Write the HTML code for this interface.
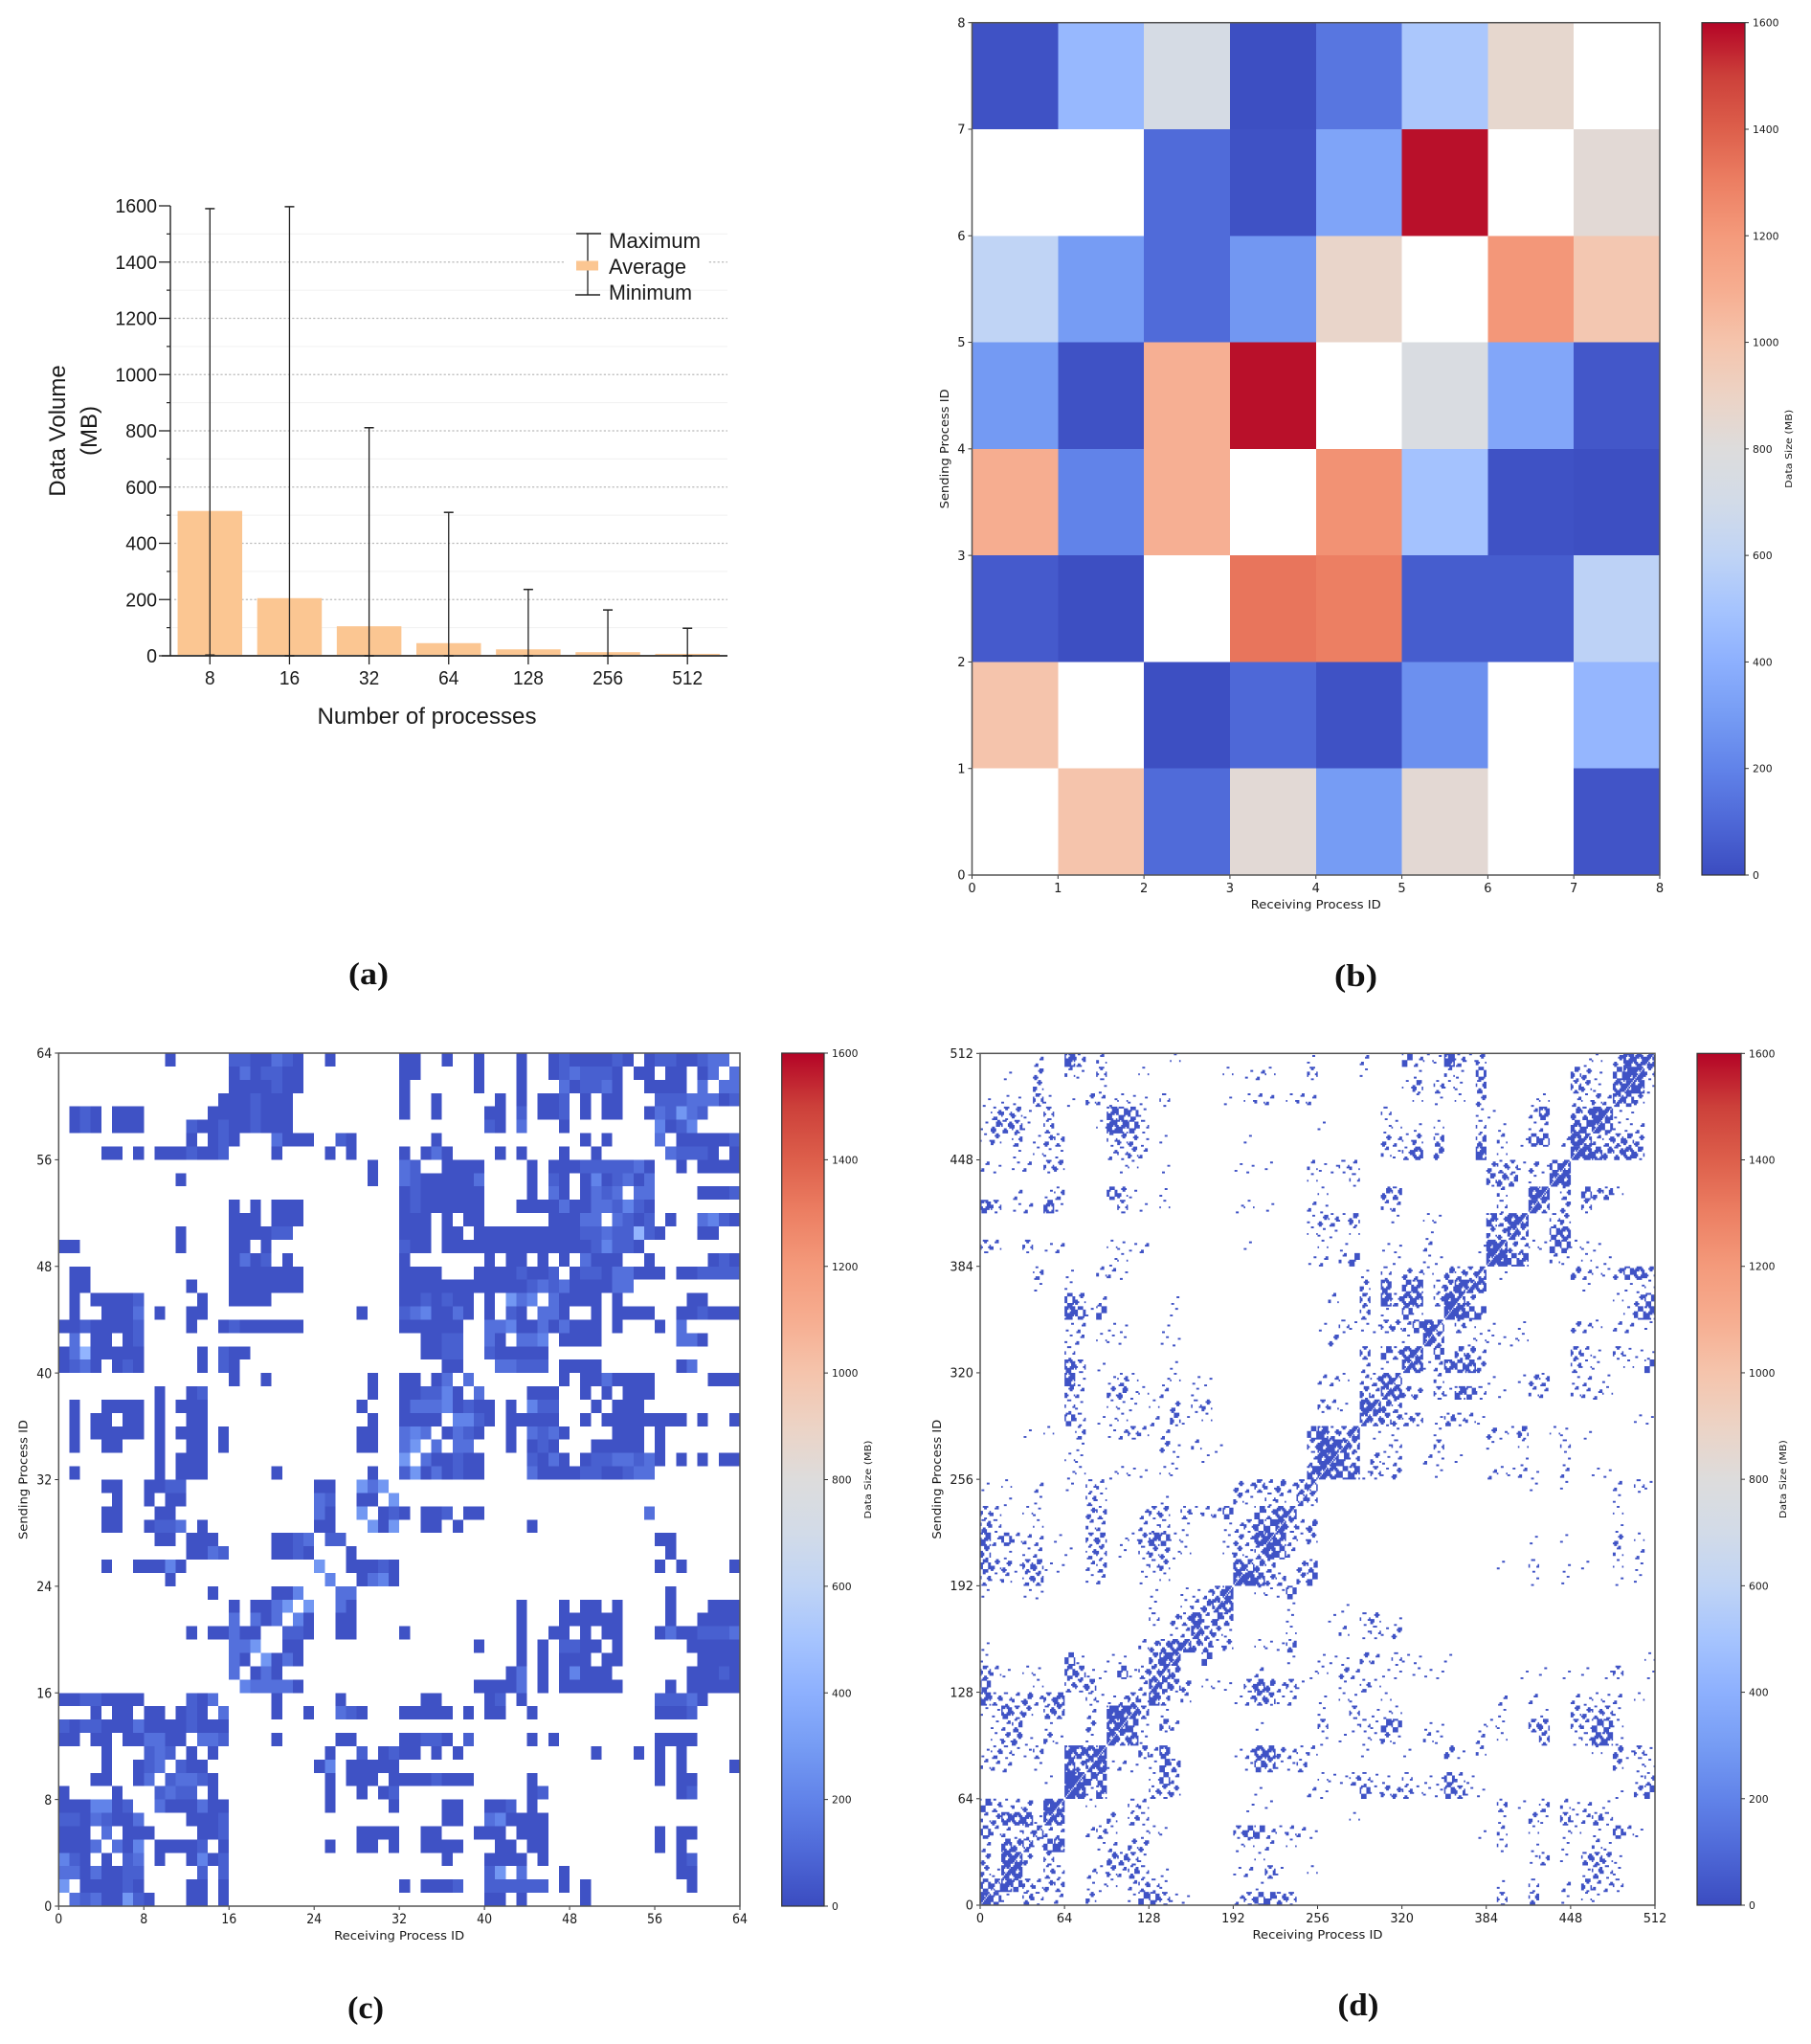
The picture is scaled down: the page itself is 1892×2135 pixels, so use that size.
<!DOCTYPE html>
<html lang="en">
<head>
<meta charset="utf-8">
<title>Communication volume figure</title>
<style>
html,body{margin:0;padding:0;background:#fff;}
svg{display:block;}
text{font-family:"DejaVu Sans",sans-serif;fill:#1a1a1a;}
.sans text,text.sans{font-family:"Liberation Sans",sans-serif;}
.panel-label{font-family:"Liberation Serif",serif;font-weight:bold;font-size:33px;fill:#111;text-anchor:middle;}
</style>
</head>
<body>
<svg id="fig" xmlns="http://www.w3.org/2000/svg" width="1892" height="2135" viewBox="0 0 1892 2135">
<defs>
<linearGradient id="coolwarm" x1="0" y1="1" x2="0" y2="0"></linearGradient>
</defs>
<rect x="0" y="0" width="1892" height="2135" fill="#fff"/>
<g id="panel-a" class="sans"></g>
<g id="panel-b"></g>
<g id="panel-c"></g>
<g id="panel-d"></g>
<text class="panel-label" x="385" y="1028" textLength="42" lengthAdjust="spacingAndGlyphs">(a)</text>
<text class="panel-label" x="1416.5" y="1030" textLength="45" lengthAdjust="spacingAndGlyphs">(b)</text>
<text class="panel-label" x="382" y="2108" textLength="38" lengthAdjust="spacingAndGlyphs">(c)</text>
<text class="panel-label" x="1419" y="2105" textLength="43" lengthAdjust="spacingAndGlyphs">(d)</text>
</svg>
<script>
/* ---------- chart (a) data ---------- */
const processCounts = ['8','16','32','64','128','256','512'];
const averageVolume = [515,205,105,45,23,13,7];
const maximumVolume = [1590,1597,811,510,236,163,98];
const minimumVolume = [3,0,0,0,0,0,0];
const volumeTicks = [0,200,400,600,800,1000,1200,1400,1600];
const volumeMinorTicks = [100,300,500,700,900,1100,1300,1500];

/* ---------- colour scale ---------- */
const colorbarTicks = [0,200,400,600,800,1000,1200,1400,1600];

/* ---------- heatmap (b): MB per cell, top row first, null = no traffic ---------- */
const matrix8 = [
 [20,440,730,10,150,520,860,null],
 [null,null,110,20,340,1580,null,830],
 [600,300,110,280,880,null,1210,980],
 [290,20,1090,1580,null,760,350,40],
 [1100,200,1090,null,1230,490,20,10],
 [50,10,null,1330,1300,60,60,590],
 [1000,null,10,100,20,250,null,430],
 [null,1000,110,830,300,840,null,30]
];
const ticks8 = [0,1,2,3,4,5,6,7,8];

/* ---------- heatmap (c): 64x64, top row first; '.' = none, digit = level index ---------- */
const levelsMB64 = [0,20,70,130,200,280,420];
const matrix64 = [
"........ ..1..... 2211321. .1...... 11..1..1 ...1..12 111121.1 2211233.",
"........ ........ 1312211. ........ 11.....1 ...1..12 32221.11 .11.13.3",
"........ ........ 1111211. ........ 1......1 ...1...3 12231..1 111.3.33",
"........ .......1 112111.. ........ 1..1.... .1.1.112 .1.11... 22233312",
".121.111 ......11 112111.. ........ 1..1.... 11.2.112 .1.11..1 32532...",
".121.111 ....2112 112111.. ........ ........ 21.3...1 ........ 4124....",
"........ ....1.12 1...3111 ..21.... ...1.... ........ .1.1.... 3.111112",
"....11.1 .1112112 ....1... .1.1.... 1.131... .1.1...1 ..1..... .32221.1",
"........ ........ ........ .....1.. 32..1111 ....1.11 12222231 ..1.1111",
"........ ...1.... ........ .....1.. 32111113 ....1.21 .1412313 ........",
"........ ........ ........ ........ 12111111 ....1.31 .1323.33 ....1112",
"........ ........ 1.1.111. ........ 12111111 ...11113 11332421 ........",
"........ ........ 111.111. ........ 111.1.11 ......11 133.3212 .1..3421",
"........ ...1.... 111122.. ........ 111.11.1 11111111 12232262 1...11..",
"11...... ...1.... 11.1.... ........ 211.1111 11111111 1124221. ........",
"........ ........ 1312.1.. ........ 1....... 1.11.1.1 .3111..1 .....121",
".11..... ........ 1111111. ........ 1111...1 1112112. 12213311 1.112222",
".11..... ....1... 1111111. ........ 11111111 11112323 111133.. ........",
".1.11112 .....1.. 1111.... ........ 1121211. 1.534.31 111.1... ...11...",
".1..1113 .1..11.. ........ ....1... 2341131. 1.21.331 ..1.1111 ..112111",
"11211112 ....1..1 2111111. ........ 111111.. 33411313 111.1... 1.3.....",
".3.11.12 ........ ........ ........ ..1122.. 31.334.1 111..... ..331...",
"13611111 .....1.2 11...... ........ ..1122.. 211111.. ........ ........",
"1231.121 .....1.2 1....... ........ ....11.. .33222.1 111..... ..13....",
"........ ........ 1..1.... .....1.. 11.13.3. .......1 .1131111 .....111",
"........ .1..12.. ........ .....1.. 112241.3 ....111. .1.1.111 ........",
".1..1111 .1.111.. ........ ....1... 13334121 1.1.422. ..1.111. ........",
".1.11.11 .1..11.. ........ .....1.. 1111.442 1.11111. .1.11111 111.1..1",
".1.11111 .1.111.1 ........ ....11.. 343.1321 ..1.3231 ....111. 1.......",
".1..11.. .1..11.1 ........ ....11.. 35.3.33. ..1.121. ..11111. 1.......",
"........ .1.111.. ........ ........ 5.311211 ....2131 .1223323 1.1.1.11",
".1...... .1.111.. ....1... .....1.. 25131211 ....3111 12211233 ........",
"....11.. 1122.... ........ 11..535. ........ ........ ........ ........",
".....1.. 1.11.... ........ 32..11.5 ........ ........ ........ ........",
"....11.. .11..... ........ 31..5.12 1.112.11 ........ .......3 ........",
"....11.. 1223.1.. ........ 11...515 ..11.1.. ....1... ........ ........",
"........ .11.111. ....1123 .22..... ........ ........ ........ 11......",
"........ ....1132 ....1121 ...1.... ........ ........ ........ .1......",
"....1..1 1141.... ........ 5..11121 ........ ........ ........ 1.1....1",
"........ ..1..... ........ .4..1341 ........ ........ ........ ........",
"........ ......1. ....114. ..33.... ........ ........ ........ .1......",
"........ ........ 1.1135.5 ..31.... ........ ...1...1 .11.1... .1...111",
"........ ........ 3.313.41 ..11.... ........ ...1...1 11111... .1..1111",
"........ ....1.11 311..221 ..11.... 1....... ...1..11 .1.11... 13112223",
"........ ........ 335..11. ........ .......1 ...1.1.2 211.1... ...11111",
"........ ........ 31.5131. ........ ........ ...1.1.1 11.11... ....1111",
"........ ........ 3.131... ........ ........ ..13.1.1 4111.... ...11121",
"........ ........ .433331. ........ .......1 1113.1.1 11111... .1.11111",
"11221111 ....213. ....1... ..1..... ..11.... 12.1.... ........ 22231...",
"...1.11. 11.121.3 ....1..1 ..321... 11111.1. 11..1... ........ 1112....",
"21221113 11112111 ........ ........ ........ ........ ........ ........",
"11.11.11 3311.332 ....1... ..11.... 11221.2. ....1.1. ........ 1111....",
"....1... 232.1.1. ........ .1..2.12 11.1.1.. ........ ..1...1. 1.1.....",
"....1..1 23.211.. ........ 14.11111 ........ ........ ........ 1.1....1",
"...11..1 3.23321. ........ .1.111.1 1112111. ....1... ........ 1.11....",
"1....1.. .2322.1. ........ .1..1.12 ........ ....12.. ........ ..12....",
"1114412. .3111311 ........ .1.....1 ....11.. 112.1... ........ ........",
"22132113 ....1112 ........ ........ ....11.. 341111.. ........ ........",
"111.3.11 1....112 ........ ....1111 ..11...1 11.111.. ........ 1.11....",
"1113.314 .11112.1 ........ .1..11.1 ..1111.. .11.11.. ........ 1.1.....",
"421.1.23 .1..1412 ........ ........ ....1... 1111.1.. ........ ..12....",
"33131122 .....2.2 ........ ........ ........ 25.3...1 ........ ..11....",
"5.111121 ....11.1 ........ ........ 1.1112.. 222222.1 .1...... ...1....",
".3231152 1...11.1 ........ ........ ........ 11.1.... .1...... ........"
];
const ticks64 = [0,8,16,24,32,40,48,56,64];

/* ---------- heatmap (d): traffic density read per 8x8 block, top row first, 0-9 ---------- */
const density512 = [
"00000200 73020000 00100000 00000001 00002000 52118313 00000000 01103767",
"00100300 21030001 00000001 01210003 00001000 01002105 00000000 43105883",
"00000300 00010000 00000000 00000000 00000000 14031104 00000000 43106871",
"10110410 10321111 02000001 01220122 00000000 01010103 00001100 21326530",
"03331030 00006551 00000000 00000000 00000020 00000001 10002600 44871100",
"14441030 00017652 00000000 00000000 10000011 01010002 01001200 65851120",
"13030133 00002331 01000000 01000000 00000032 13040004 02015502 76234430",
"00010111 00002232 00000000 00000000 00000021 36040007 01000000 87644640",
"21012033 00000110 01000000 11010002 11220000 00000000 33313157 00000000",
"00000000 00000000 00000000 00000001 00020000 00000000 44401087 00000000",
"00020013 00005310 01000000 00000000 10000044 00000000 02007803 05341000",
"63012061 00000301 01000000 11010002 10000022 00000000 02008403 03000000",
"00000000 00000000 00000000 00000001 33140001 00110000 63770023 00000000",
"00000000 00000000 00000000 00000001 11010000 00100000 33740056 00000000",
"32003012 00001112 00000000 01000000 10100011 00200001 87321155 11100000",
"00000000 00001100 00000000 00000001 20250001 00110000 88560021 01010000",
"00000300 10022100 00000000 00000000 00001020 32104336 01000000 42113563",
"00000100 10000000 00000000 00000000 00003060 56024776 00000000 01000111",
"00000000 53020000 00100000 00000000 02004073 66038630 00000000 00001035",
"00000000 75150000 00100000 00000000 00003010 51009755 00000000 00000156",
"00000000 12001100 01000000 00000000 10211133 25750310 10010000 32102201",
"00000000 12011100 01100000 00000000 03000000 10840011 11110000 00000000",
"00000000 20000000 00000000 00000000 00004053 67050442 00000000 42103111",
"00000000 63010000 00100000 00000000 00002010 76126563 00000000 31100105",
"00000000 71001310 01101100 00000000 22102365 00020000 10013300 12010000",
"00000000 32003411 02001000 00000000 00004266 33031652 01002200 22210000",
"00000000 21001110 10302300 00000000 32107743 00000000 00000000 00000000",
"00000000 52011100 20410100 00000000 00006443 33014221 00000000 00000011",
"00001010 03001232 02000000 00000005 73370101 00010000 31140011 01000000",
"00000000 01000000 03102010 00000003 77740012 00030000 10010002 00000000",
"00000000 11000000 00100100 00000002 78530312 00210100 00010001 00000000",
"00000000 11001111 01100000 00000006 86561313 00010000 21121002 00110000",
"10100200 10220000 00000000 32424245 00000000 00000000 00001001 00002021",
"00100100 00310000 01000000 31022053 00000000 00000000 00000000 00001000",
"32001100 00330002 33031225 00536600 00000000 00000000 00000000 00001000",
"42000100 00220002 12010001 23558324 00000000 00000000 00000000 00001000",
"62522201 00340113 65110001 32786213 00000000 00000000 00001001 00003010",
"40101200 10330102 33110001 31475200 00000000 00000000 00000000 00002020",
"53314411 00230001 23000000 65430034 00000000 00000000 01002001 01001010",
"31203400 00120001 01000000 88633035 00000000 00000000 00001001 00001010",
"10001100 00000000 10011248 00111500 00000000 00000000 00000000 00000000",
"00000000 00000000 10012466 00000100 00100000 00000000 00000000 00000000",
"00000000 00000000 20337254 00000100 01002301 00000000 00000000 00000000",
"00000000 00000000 00127431 00000100 00201213 00000000 00000000 00000000",
"10000000 00000002 34674413 00111400 00000000 00000000 00000000 00000000",
"10000000 51001100 47700500 00000100 11103202 11001000 00000000 00000001",
"42101100 54110513 46400000 00200001 10320011 01110000 00010101 01013001",
"50000100 33400002 75430111 03642310 00103100 00000000 00000000 00000000",
"63224236 00211242 73020000 12441200 10110010 00000000 02002000 21112010",
"11633044 00208774 01000000 00000000 10030111 00000000 01000100 33331000",
"01240010 00306851 04200000 00100000 30012155 00110001 11004400 32551000",
"01341031 00108461 00000000 00000000 10101131 00210002 01000400 12661000",
"13211300 76680004 26000000 12663212 00001000 10004102 00000000 00104131",
"22200100 63671210 15400000 01541130 00000000 00000000 00000000 00003011",
"00000010 98550000 15200000 00000000 11132110 20115210 00000000 00000013",
"00000000 97160000 33300000 00100002 10005133 31115411 00000000 00001035",
"53123087 00100022 00000000 01010000 00000000 00000000 03010302 12010000",
"23666176 00003032 00000000 00000000 00010000 00000000 01003104 12420000",
"52212522 00231001 11000000 35521221 00000000 00000001 02001001 10105210",
"20645157 00012033 00000000 11020100 00000000 00000000 02001001 00210000",
"30773030 00004431 00000000 00100000 00000000 00000000 00001301 04431000",
"31770032 00213242 01000000 12041001 00000000 00000000 00000000 01421000",
"55753233 00111023 21000000 00100000 00000000 00000000 01002002 04222000",
"95104202 00300015 53110000 23554300 00000000 00000000 03004001 01100000"
];
const densityCellCounts = [0,4,10,17,25,33,42,52,58,63];
const ticks512 = [0,64,128,192,256,320,384,448,512];
const valueMB512 = 20;

/* ---------- helpers ---------- */
const NS = 'http://www.w3.org/2000/svg';
const cmapStops = [[0,'#3b4cc0'],[.0625,'#4e68d7'],[.125,'#6183e9'],[.1875,'#769cf4'],[.25,'#8db0fe'],[.3125,'#a6c4fe'],[.375,'#c0d4f5'],[.4375,'#d2dbe8'],[.5,'#dddcdc'],[.5625,'#ecd3c5'],[.625,'#f5c4ac'],[.6875,'#f6ad90'],[.75,'#f49a7b'],[.8125,'#ec7f63'],[.875,'#dd5f4b'],[.9375,'#cc403a'],[1,'#b40426']];
function hexRgb(h){return [parseInt(h.slice(1,3),16),parseInt(h.slice(3,5),16),parseInt(h.slice(5,7),16)];}
function coolwarm(t){
  t=Math.max(0,Math.min(1,t));
  for(let i=1;i<cmapStops.length;i++){
    if(t<=cmapStops[i][0]){
      const a=cmapStops[i-1],b=cmapStops[i],f=(t-a[0])/(b[0]-a[0]);
      const A=hexRgb(a[1]),B=hexRgb(b[1]);
      return 'rgb('+A.map((v,k)=>Math.round(v+(B[k]-v)*f)).join(',')+')';
    }
  }
  return cmapStops[cmapStops.length-1][1];
}
function colorOf(mb){return coolwarm(mb/1600);}
const grad=document.getElementById('coolwarm');
cmapStops.forEach(s=>{
  const st=document.createElementNS(NS,'stop');
  st.setAttribute('offset',s[0]);
  st.setAttribute('stop-color',s[1]);
  grad.appendChild(st);
});
function add(parent,tag,name,attrs){
  const el=document.createElementNS(NS,tag);
  
  
  for(const k in attrs){el.setAttribute(k,attrs[k]);}
  parent.appendChild(el);
  return el;
}
function addText(parent,name,str,attrs){
  const el=add(parent,'text',name,attrs);
  el.textContent=str;
  return el;
}

/* ---------- panel (a) ---------- */
(function(){
  const g=document.getElementById('panel-a');
  const axisLeft=178, axisRight=760, base=685, top=215;
  const vy=v=>base-v*(base-top)/1600;
  const cx=i=>219.3+i*83.15;
  const barW=67.5;
  volumeMinorTicks.forEach(v=>{
    add(g,'line','minor-gridline',{x1:axisLeft+2,x2:axisRight,y1:vy(v),y2:vy(v),stroke:'#f0f0f0','stroke-width':1});
    add(g,'line','minor-tick',{x1:axisLeft-4,x2:axisLeft,y1:vy(v),y2:vy(v),stroke:'#222','stroke-width':1.2});
  });
  volumeTicks.forEach(v=>{
    if(v>0&&v<1600){
      add(g,'line','major-gridline',{x1:axisLeft+4,x2:axisRight,y1:vy(v),y2:vy(v),stroke:'#bbb','stroke-width':1.3,'stroke-dasharray':'2.2 2.2'});
    }
    add(g,'line','y-tick',{x1:axisLeft-12,x2:axisLeft,y1:vy(v),y2:vy(v),stroke:'#222','stroke-width':1.3});
    addText(g,'y-tick-label',String(v),{x:164,y:vy(v)+7,'text-anchor':'end','font-size':20,textLength:String(v).length*10.9,lengthAdjust:'spacingAndGlyphs'});
  });
  add(g,'rect','legend-background',{x:590,y:262,width:149,height:34,fill:'#fff'});
  processCounts.forEach((p,i)=>{
    const y=vy(averageVolume[i]);
    add(g,'rect','bar-average-'+p,{x:cx(i)-barW/2,y:y,width:barW,height:base-y,fill:'#fbc692'});
  });
  add(g,'line','x-axis-line',{x1:169,x2:axisRight,y1:base,y2:base,stroke:'#444','stroke-width':2});
  add(g,'line','y-axis-line',{x1:axisLeft,x2:axisLeft,y1:top,y2:base,stroke:'#222','stroke-width':1.4});
  processCounts.forEach((p,i)=>{
    const x=cx(i);
    add(g,'line','x-tick',{x1:x,x2:x,y1:base,y2:base+9,stroke:'#222','stroke-width':1.3});
    add(g,'line','error-bar-'+p,{x1:x,x2:x,y1:vy(maximumVolume[i]),y2:vy(minimumVolume[i]),stroke:'#222','stroke-width':1.3});
    add(g,'line','error-cap-max-'+p,{x1:x-5,x2:x+5,y1:vy(maximumVolume[i]),y2:vy(maximumVolume[i]),stroke:'#222','stroke-width':1.5});
    add(g,'line','error-cap-min-'+p,{x1:x-5,x2:x+5,y1:vy(minimumVolume[i]),y2:vy(minimumVolume[i]),stroke:'#222','stroke-width':1.3});
    addText(g,'x-tick-label',p,{x:x,y:715,'text-anchor':'middle','font-size':20,textLength:p.length*10.6,lengthAdjust:'spacingAndGlyphs'});
  });
  addText(g,'x-axis-title','Number of processes',{x:446,y:756,'text-anchor':'middle','font-size':24,textLength:229,lengthAdjust:'spacingAndGlyphs'});
  addText(g,'y-axis-title-line-1','Data Volume',{x:0,y:0,'text-anchor':'middle','font-size':24,transform:'translate(68 450) rotate(-90)'});
  addText(g,'y-axis-title-line-2','(MB)',{x:0,y:0,'text-anchor':'middle','font-size':24,transform:'translate(101 450) rotate(-90)'});
  /* legend */
  add(g,'line','legend-whisker',{x1:614,x2:614,y1:244,y2:308,stroke:'#222','stroke-width':1.3});
  add(g,'line','legend-cap-max',{x1:602,x2:628,y1:244,y2:244,stroke:'#222','stroke-width':1.5});
  add(g,'line','legend-cap-min',{x1:601,x2:627,y1:308,y2:308,stroke:'#222','stroke-width':1.5});
  add(g,'rect','legend-swatch-average',{x:602,y:272.5,width:23,height:10,fill:'#fbc692'});
  addText(g,'legend-label-maximum','Maximum',{x:636,y:259,'font-size':22,textLength:96,lengthAdjust:'spacingAndGlyphs'});
  addText(g,'legend-label-average','Average',{x:636,y:286,'font-size':22,textLength:81,lengthAdjust:'spacingAndGlyphs'});
  addText(g,'legend-label-minimum','Minimum',{x:636,y:313,'font-size':22,textLength:87,lengthAdjust:'spacingAndGlyphs'});
})();

/* ---------- shared heatmap frame ---------- */
function frame(g,c,ticks,domain){
  const xs=v=>c.L+v*(c.R-c.L)/domain;
  const ys=v=>c.B-v*(c.B-c.T)/domain;
  ticks.forEach(v=>{
    const lab=String(v);
    const len=lab.length*c.digit;
    add(g,'line','x-tick',{x1:xs(v),x2:xs(v),y1:c.B,y2:c.B+4,stroke:'#333','stroke-width':1});
    add(g,'line','y-tick',{x1:c.L-4,x2:c.L,y1:ys(v),y2:ys(v),stroke:'#333','stroke-width':1});
    addText(g,'x-tick-label',lab,{x:xs(v),y:c.B+18,'text-anchor':'middle','font-size':c.font,textLength:len,lengthAdjust:'spacingAndGlyphs'});
    addText(g,'y-tick-label',lab,{x:c.L-7,y:ys(v)+c.font*0.36,'text-anchor':'end','font-size':c.font,textLength:len,lengthAdjust:'spacingAndGlyphs'});
  });
  add(g,'rect','plot-frame',{x:c.L,y:c.T,width:c.R-c.L,height:c.B-c.T,fill:'none',stroke:'#555','stroke-width':1.5});
  addText(g,'x-axis-title','Receiving Process ID',{x:(c.L+c.R)/2,y:c.B+35,'text-anchor':'middle','font-size':12.5,textLength:136,lengthAdjust:'spacingAndGlyphs'});
  addText(g,'y-axis-title','Sending Process ID',{x:0,y:0,'text-anchor':'middle','font-size':12.5,textLength:125,lengthAdjust:'spacingAndGlyphs',transform:'translate('+(c.ytx+4)+' '+((c.T+c.B)/2)+') rotate(-90)'});
  /* colorbar */
  add(g,'rect','colorbar',{x:c.cL,y:c.T,width:c.cR-c.cL,height:c.B-c.T,fill:'url(#coolwarm)',stroke:'#333','stroke-width':1.2});
  colorbarTicks.forEach(v=>{
    const y=c.B-v*(c.B-c.T)/1600;
    add(g,'line','colorbar-tick',{x1:c.cR,x2:c.cR+4,y1:y,y2:y,stroke:'#333','stroke-width':1});
    addText(g,'colorbar-tick-label',String(v),{x:c.cR+8,y:y+4,'font-size':10.8});
  });
  addText(g,'colorbar-title','Data Size (MB)',{x:0,y:0,'text-anchor':'middle','font-size':10,textLength:82,lengthAdjust:'spacingAndGlyphs',transform:'translate('+(c.ctx+4)+' '+((c.T+c.B)/2)+') rotate(-90)'});
  return {xs,ys};
}

/* ---------- panel (b) ---------- */
(function(){
  const g=document.getElementById('panel-b');
  const c={L:1015.5,R:1734,T:23.7,B:914,cL:1778,cR:1823,digit:8.3,font:13,ytx:987,ctx:1868};
  const xs=v=>c.L+v*(c.R-c.L)/8;
  const ys=v=>c.B-v*(c.B-c.T)/8;
  matrix8.forEach((row,r)=>{
    row.forEach((mb,k)=>{
      if(mb===null)return;
      const yv=8-r;
      add(g,'rect','cell-r'+(yv-1)+'-c'+k,{x:xs(k),y:ys(yv),width:xs(k+1)-xs(k),height:ys(yv-1)-ys(yv),fill:colorOf(mb),'shape-rendering':'crispEdges'});
    });
  });
  frame(g,c,ticks8,8);
})();

/* ---------- panel (c) ---------- */
(function(){
  const g=document.getElementById('panel-c');
  const c={L:61.3,R:773,T:1100,B:1991,cL:816.7,cR:861,digit:8,font:14.5,ytx:24.5,ctx:906};
  const xs=v=>c.L+v*(c.R-c.L)/64;
  const ys=v=>c.B-v*(c.B-c.T)/64;
  matrix64.forEach((line,r)=>{
    const row=line.replace(/ /g,'');
    for(let k=0;k<row.length;k++){
      const ch=row[k];
      if(ch==='.')continue;
      const yv=64-r;
      add(g,'rect','cell-r'+(yv-1)+'-c'+k,{x:xs(k),y:ys(yv),width:xs(k+1)-xs(k),height:ys(yv-1)-ys(yv),fill:colorOf(levelsMB64[+ch]),'shape-rendering':'crispEdges'});
    }
  });
  frame(g,c,ticks64,64);
})();

/* ---------- panel (d) ---------- */
(function(){
  const g=document.getElementById('panel-d');
  const c={L:1024,R:1729,T:1100.3,B:1990,cL:1773,cR:1819,digit:8.2,font:13,ytx:979,ctx:1862};
  const xs=v=>c.L+v*(c.R-c.L)/512;
  const ys=v=>c.B-v*(c.B-c.T)/512;
  /* clustered texture order: how the counted cells of a block are laid out */
  const clusterOrder=[[24,10,12,26,35,47,49,37],[8,0,2,14,45,59,61,51],[22,6,4,16,43,57,63,53],[30,20,18,28,33,41,55,39],[34,46,48,36,25,11,13,27],[44,58,60,50,9,1,3,15],[42,56,62,52,23,7,5,17],[32,40,54,38,31,21,19,29]];
  const w=xs(1)-xs(0)+0.2, h=ys(0)-ys(1)+0.2;
  density512.forEach((line,r)=>{
    const row=line.replace(/ /g,'');
    let d='';
    for(let k=0;k<row.length;k++){
      const count=densityCellCounts[+row[k]];
      if(!count)continue;
      const baseY=512-8*(r+1);
      const sx=(k*3+r*5)%8, sy=(k*5+r*3)%8;
      for(let j=0;j<8;j++){
        for(let i=0;i<8;i++){
          if(clusterOrder[(j+sy)%8][(i+sx)%8]>=count)continue;
          const X=k*8+i, Y=baseY+j;
          if(X===Y)continue;
          d+='M'+xs(X).toFixed(2)+' '+ys(Y+1).toFixed(2)+'h'+w.toFixed(2)+'v'+h.toFixed(2)+'h-'+w.toFixed(2)+'z';
        }
      }
    }
    if(d){
      add(g,'path','traffic-row-'+(63-r),{d:d,fill:colorOf(valueMB512)});
    }
  });
  frame(g,c,ticks512,512);
})();
</script>
</body>
</html>
